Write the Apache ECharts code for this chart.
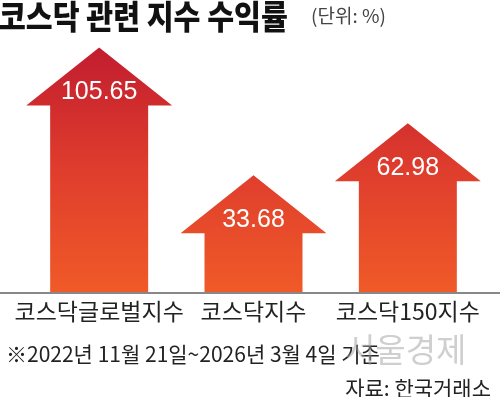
<!DOCTYPE html>
<html>
<head>
<meta charset="utf-8">
<script src="https://cdn.jsdelivr.net/npm/echarts@6/dist/echarts.min.js"></script>
<style>html,body{margin:0;padding:0;background:#fff;}#c{width:500px;height:397px;}</style>
</head>
<body>
<div id="c"></div>
<script>
var categories = ['코스닥글로벌지수', '코스닥지수', '코스닥150지수'];
var values = [105.65, 33.68, 62.98];
var valueLabels = ['105.65', '33.68', '62.98'];

var KR = '"Noto Sans CJK KR", "Noto Sans", sans-serif';
var chart = echarts.init(document.getElementById('c'), null, {renderer: 'canvas'});
var grad = new echarts.graphic.LinearGradient(0, 47, 0, 293, [
  {offset: 0, color: '#c21d2f'},
  {offset: 0.5, color: '#df3d2d'},
  {offset: 1, color: '#f05a28'}
], true);

chart.setOption({
  backgroundColor: '#ffffff',
  animation: false,
  title: [
    {text: '※2022년 11월 21일~2026년 3월 4일 기준', left: 1, top: 339,
     textStyle: {fontFamily: KR, fontSize: 21, fontWeight: 'normal', color: '#222'}},
    {text: '자료: 한국거래소', right: 4, top: 373,
     textStyle: {fontFamily: KR, fontSize: 21, fontWeight: 'normal', color: '#222'}}
  ],
  graphic: [
    {type: 'text', x: -1, y: 0, scaleX: 0.885, z: 20,
     style: {text: '코스닥 관련 지수 수익률', font: '900 33px ' + KR, fill: '#111'}},
    {type: 'text', x: 311, y: 6, z: 20,
     style: {text: '(단위: %)', font: '19px ' + KR, fill: '#444'}},
    {type: 'line', shape: {x1: 0, y1: 293, x2: 500, y2: 293},
     style: {stroke: '#888', lineWidth: 2}, z: 10},
    {type: 'text', x: 345, y: 333, z: 20,
     style: {text: '서울경제', font: '33px ' + KR, fill: 'rgba(160,160,160,0.5)'}}
  ],
  grid: {left: 22, right: 15, top: 80, bottom: 104},
  xAxis: {
    type: 'category', data: categories,
    axisLine: {show: false}, axisTick: {show: false},
    axisLabel: {fontFamily: KR, fontSize: 23, color: '#222', margin: 7, interval: 0}
  },
  yAxis: {type: 'value', min: 0, max: 120, show: false, splitLine: {show: false}},
  series: [{
    type: 'custom',
    data: values.map(function (v, i) { return [i, v]; }),
    renderItem: function (params, api) {
      var i = api.value(0), v = api.value(1);
      var base = api.coord([i, 0]);
      var top = api.coord([i, v]);
      var band = api.size([1, 0])[0];
      var sw = band * 0.635 / 2, hw = band * 0.945 / 2, hh = 58;
      var cx = base[0];
      var pts = [[cx - sw, base[1]], [cx - sw, top[1]], [cx - hw, top[1]], [cx, top[1] - hh],
                 [cx + hw, top[1]], [cx + sw, top[1]], [cx + sw, base[1]]];
      return {
        type: 'group',
        children: [
          {type: 'polygon', shape: {points: pts}, style: {fill: grad}},
          {type: 'text', style: {text: valueLabels[params.dataIndex], x: cx, y: top[1] - 13,
            align: 'center', verticalAlign: 'middle', fill: '#fff',
            font: '25px "Liberation Sans", Arial, sans-serif'}}
        ]
      };
    }
  }]
});
</script>
</body>
</html>
